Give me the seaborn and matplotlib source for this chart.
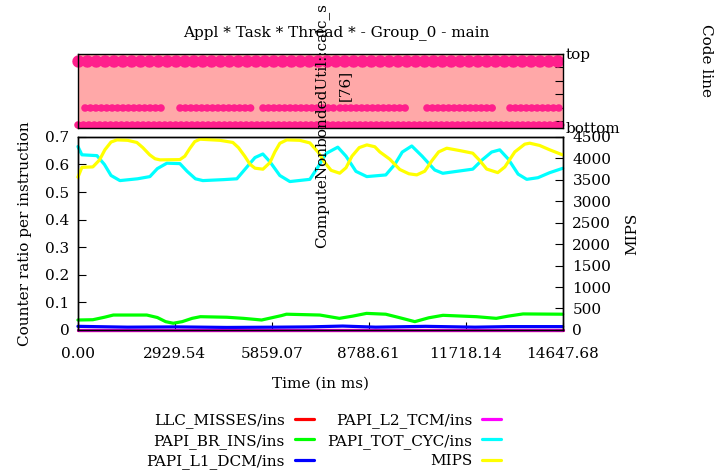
import matplotlib
matplotlib.use("Agg")
import matplotlib.pyplot as plt
import seaborn as sns
import pandas as pd
import numpy as np

# --- data ------------------------------------------------------------------
t_end = 14647.68
time_ticks = [0.00, 2929.54, 5859.07, 8788.61, 11718.14, 14647.68]

# MIPS (right axis)
mips_time = [0, 120, 450, 650, 815, 1000, 1180, 1500, 1780, 1960, 2170, 2330, 2480,
             3080, 3230, 3380, 3530, 3690, 4290, 4680, 4850, 5040, 5200, 5350, 5590,
             5800, 5950, 6100, 6310, 6700, 7007, 7250, 7460, 7650, 7910, 8100, 8280,
             8500, 8730, 8970, 9121, 9423, 9725, 10000, 10238, 10480, 10700, 10900,
             11144, 11540, 11930, 12140, 12350, 12685, 12900, 13200, 13500, 13651,
             13950, 14250, 14647.68]
mips = [3560, 3790, 3800, 3960, 4200, 4380, 4430, 4420, 4370, 4250, 4080, 3990, 3964,
        3970, 4050, 4230, 4390, 4446, 4420, 4370, 4250, 4050, 3860, 3770, 3747,
        3900, 4150, 4350, 4430, 4420, 4360, 4150, 3900, 3720, 3653, 3780, 4050,
        4250, 4313, 4270, 4150, 3980, 3740, 3640, 3614, 3700, 3950, 4150,
        4236, 4180, 4120, 3950, 3750, 3667, 3800, 4150, 4330, 4353,
        4300, 4200, 4080]

# PAPI_TOT_CYC/ins
cyc_time = [0, 120, 574, 800, 1000, 1268, 1800, 2175, 2400, 2688, 3081, 3300, 3550,
            3775, 4400, 4802, 5100, 5350, 5587, 5800, 6100, 6403, 7007, 7250, 7500,
            7852, 8100, 8400, 8728, 9302, 9574, 9800, 10087, 10400, 10780, 11024,
            11930, 12200, 12500, 12745, 13000, 13300, 13561, 13900, 14250, 14647.68]
tot_cyc = [0.665, 0.635, 0.632, 0.600, 0.560, 0.5415, 0.548, 0.556, 0.585, 0.6046,
           0.603, 0.575, 0.548, 0.5415, 0.545, 0.548, 0.590, 0.625, 0.638, 0.610,
           0.560, 0.538, 0.546, 0.590, 0.640, 0.6627, 0.630, 0.575, 0.556, 0.562,
           0.600, 0.645, 0.667, 0.630, 0.580, 0.568, 0.583, 0.615, 0.645, 0.653,
           0.620, 0.565, 0.546, 0.552, 0.570, 0.586]

# PAPI_BR_INS/ins
br_time = [0, 450, 800, 1070, 2080, 2400, 2650, 2880, 3150, 3450, 3700, 4500, 5000,
           5550, 5850, 6150, 6300, 7310, 7900, 8300, 8720, 9300, 9700, 10180, 10600,
           11030, 12040, 12640, 13000, 13450, 14647.68]
br_ins = [0.036, 0.037, 0.046, 0.054, 0.054, 0.045, 0.030, 0.0242, 0.030, 0.042,
          0.048, 0.046, 0.042, 0.036, 0.044, 0.052, 0.057, 0.054, 0.042, 0.050,
          0.060, 0.057, 0.045, 0.030, 0.044, 0.053, 0.048, 0.042, 0.050, 0.058,
          0.057]

# PAPI_L1_DCM/ins
l1_time = [0, 1500, 3000, 4500, 6000, 7000, 8000, 9000, 10500, 12000, 13000, 14647.68]
l1_dcm = [0.013, 0.010, 0.011, 0.009, 0.010, 0.011, 0.014, 0.010, 0.013, 0.010,
          0.012, 0.012]

# LLC_MISSES/ins and PAPI_L2_TCM/ins (flat at the bottom)
flat_time = [0, 7300, 14647.68]
llc_misses = [0.0004, 0.0004, 0.0004]
l2_tcm = [0.0005, 0.0005, 0.0005]

# code line panel: full rows and the broken middle row (start, end in ms)
row_top = [(0, 14647.68)]
row_mid = [(211, 2567), (3081, 5255), (5587, 7822), (7913, 9936),
           (10540, 12654), (13047, 14617)]
row_bottom = [(0, 14647.68)]

series = [
    ("LLC_MISSES/ins", flat_time, llc_misses, "#ff0000"),
    ("PAPI_BR_INS/ins", br_time, br_ins, "#00ff00"),
    ("PAPI_L1_DCM/ins", l1_time, l1_dcm, "#0000ff"),
    ("PAPI_L2_TCM/ins", flat_time, l2_tcm, "#ff00ff"),
    ("PAPI_TOT_CYC/ins", cyc_time, tot_cyc, "#00ffff"),
]

# --- style -----------------------------------------------------------------
sns.set_style("white")
plt.rcParams['font.family'] = ['DejaVu Serif']
plt.rcParams['font.size'] = 11
plt.rcParams['axes.edgecolor'] = 'black'
plt.rcParams['axes.linewidth'] = 1.0
plt.rcParams['text.color'] = 'black'
plt.rcParams['axes.labelcolor'] = 'black'
plt.rcParams['xtick.color'] = 'black'
plt.rcParams['ytick.color'] = 'black'

fig = plt.figure(figsize=(7.15, 4.72), dpi=100)
ax_top = fig.add_axes([0.109, 0.729, 0.678, 0.157])
ax = fig.add_axes([0.109, 0.301, 0.678, 0.409])
ax2 = ax.twinx()

# --- code line panel -------------------------------------------------------
pink = "#ff1f8c"
ax_top.set_facecolor("#ffa8a8")
dots = (0, (0.01, 0.7))
for y, rows, lw in [(4.5, row_top, 9.0), (1.0, row_mid, 5.5), (-0.28, row_bottom, 5.5)]:
    for start, end in rows:
        ax_top.plot([start, end], [y, y], color=pink, lw=lw, linestyle=dots,
                    dash_capstyle='round', clip_on=False)
ax_top.set_xlim(0, t_end)
ax_top.set_ylim(-0.5, 5)
ax_top.set_xticks([])
ax_top.yaxis.tick_right()
ax_top.set_yticks([-0.5, 0, 1, 2, 3, 4, 5])
ax_top.set_yticklabels(["bottom", "", "", "", "", "", "top"])
ax_top.tick_params(axis='y', direction='in', length=6, pad=2, right=True, left=False)
for s in ax_top.spines.values():
    s.set_color('black')

# --- counters ---------------------------------------------------------------
for name, xs, ys, col in series:
    sns.lineplot(x=xs, y=ys, ax=ax, color=col, lw=2.3, label=name, clip_on=False)
sns.lineplot(x=mips_time, y=mips, ax=ax2, color="#ffff00", lw=2.3, label="MIPS",
             clip_on=False)

ax.set_xlim(0, t_end)
ax.set_ylim(0, 0.7)
ax2.set_ylim(0, 4500)
ax.set_xticks(time_ticks)
ax.set_xticklabels([f"{v:.2f}" for v in time_ticks])
ax.set_yticks(np.arange(0, 0.71, 0.1))
ax.set_yticklabels(["0"] + [f"{v:.1f}" for v in np.arange(0.1, 0.71, 0.1)])
ax2.set_yticks(range(0, 4501, 500))
ax.tick_params(axis='x', direction='in', length=6, pad=12, bottom=True)
ax.tick_params(axis='y', direction='in', length=6, pad=6, left=True)
ax2.tick_params(axis='y', direction='in', length=6, pad=7, right=True)

ax.set_xlabel("Time (in ms)")
ax.xaxis.set_label_coords(0.501, -0.24)
ax.set_ylabel("Counter ratio per instruction")
ax.yaxis.set_label_coords(-0.095, 0.5)
ax2.set_ylabel("MIPS")
ax2.yaxis.set_label_coords(1.128, 0.5)

handles, labels = ax.get_legend_handles_labels()
h2, l2 = ax2.get_legend_handles_labels()
handles += h2
labels += l2
ax.get_legend().remove()
ax2.get_legend().remove()
fig.legend(handles, labels, ncol=2, markerfirst=False, frameon=False,
           loc='upper center', bbox_to_anchor=(0.453, 0.141), borderpad=0,
           handlelength=1.25, handletextpad=0.65, columnspacing=0.9,
           labelspacing=0.38)

# --- texts ------------------------------------------------------------------
fig.text(0.470, 0.930, "Appl * Task * Thread * - Group_0 - main",
         ha='center', va='center')
fig.text(0.987, 0.871, "Code line", rotation=270, ha='center', va='center')
fig.text(0.4503, 0.4746, "ComputeNonbondedUtil::calc_s", rotation=90,
         ha='center', va='bottom')
fig.text(0.4825, 0.818, "[76]", rotation=90, ha='center', va='center')

fig.savefig("out.png", dpi=100)
